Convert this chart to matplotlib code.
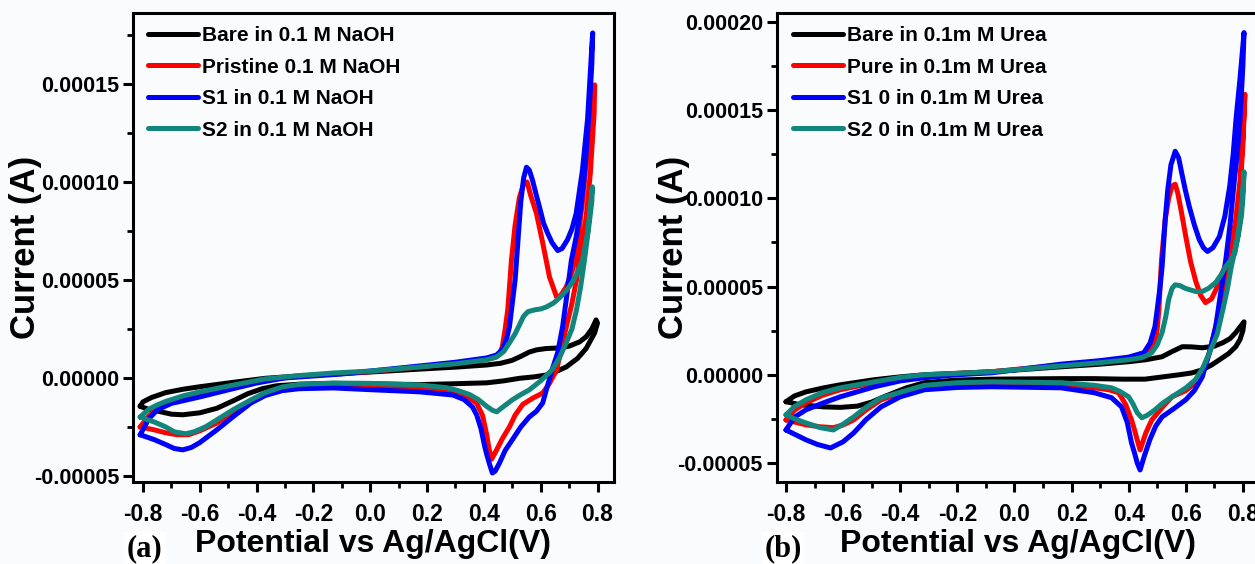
import matplotlib
matplotlib.use('Agg')
import matplotlib.pyplot as plt
import matplotlib.ticker as ticker

plt.rcParams['font.family'] = ['Liberation Sans', 'DejaVu Sans']
plt.rcParams['font.weight'] = 'bold'

# CV loops: potential (V) and current (units of 1e-5 A),
# forward sweep first, then the reverse sweep back to -0.8 V

# ---- (a) 0.1 M NaOH ----
a_bare_E = [-0.81, -0.80, -0.77, -0.72, -0.66, -0.60, -0.48, -0.37, -0.25, -0.13, 0.0, 0.174, 0.30, 0.41,
            0.46, 0.50, 0.53, 0.56, 0.585, 0.62, 0.666, 0.70, 0.737, 0.76, 0.78, 0.795,
            0.80, 0.79, 0.775, 0.76, 0.73, 0.69, 0.65, 0.62, 0.575, 0.525, 0.47, 0.41, 0.29, 0.174, 0.0,
            -0.13, -0.25, -0.33, -0.38, -0.43, -0.48, -0.54, -0.60, -0.66, -0.70, -0.74, -0.78, -0.81]
a_bare_I = [-1.45, -1.22, -1.00, -0.75, -0.58, -0.45, -0.22, -0.02, 0.10, 0.20, 0.30, 0.45, 0.55, 0.66,
            0.75, 0.90, 1.10, 1.32, 1.43, 1.50, 1.53, 1.62, 1.84, 2.10, 2.50, 2.96,
            2.80, 2.30, 1.90, 1.50, 1.00, 0.56, 0.30, 0.15, 0.05, -0.02, -0.15, -0.25, -0.30, -0.34, -0.30,
            -0.28, -0.32, -0.40, -0.55, -0.80, -1.15, -1.55, -1.78, -1.88, -1.85, -1.72, -1.60, -1.45]

a_pris_E = [-0.81, -0.78, -0.75, -0.72, -0.66, -0.60, -0.48, -0.37, -0.25, -0.13, 0.0, 0.174, 0.30, 0.41,
            0.44, 0.455, 0.465, 0.475, 0.484, 0.49, 0.497, 0.51, 0.525, 0.54, 0.552, 0.565, 0.585, 0.607,
            0.631, 0.656, 0.67, 0.69, 0.712, 0.726, 0.747, 0.77, 0.79,
            0.788, 0.775, 0.76, 0.745, 0.726, 0.71, 0.69, 0.67, 0.656, 0.63, 0.607, 0.57, 0.537, 0.51,
            0.49, 0.465, 0.445, 0.427, 0.418, 0.41, 0.395, 0.374, 0.34, 0.29, 0.174, 0.0, -0.13, -0.25,
            -0.31, -0.37, -0.42, -0.48, -0.54, -0.60, -0.64, -0.68, -0.72, -0.76, -0.81]
a_pris_I = [-2.50, -1.95, -1.60, -1.30, -1.00, -0.77, -0.40, -0.10, 0.08, 0.20, 0.32, 0.56, 0.75, 0.95,
            1.05, 1.20, 1.60, 2.50, 3.47, 4.60, 6.00, 7.80, 9.20, 9.90, 10.0, 9.30, 8.40, 6.90,
            5.15, 4.13, 4.20, 4.64, 5.50, 6.40, 9.00, 12.7, 14.95,
            13.5, 10.5, 8.20, 6.80, 5.00, 3.80, 2.60, 1.30, 0.41, -0.30, -0.77, -1.05, -1.35, -1.90,
            -2.50, -3.10, -3.67, -4.15, -3.60, -2.90, -1.90, -1.28, -0.95, -0.77, -0.51, -0.40, -0.42, -0.47,
            -0.60, -0.85, -1.20, -1.75, -2.30, -2.70, -2.90, -2.90, -2.80, -2.65, -2.50]

a_s1_E = [-0.81, -0.78, -0.75, -0.70, -0.60, -0.50, -0.40, -0.30, -0.20, -0.10, 0.0, 0.174, 0.30, 0.41,
          0.445, 0.465, 0.48, 0.49, 0.50, 0.51, 0.52, 0.53, 0.54, 0.55, 0.56, 0.571, 0.585, 0.596, 0.61,
          0.624, 0.64, 0.66, 0.675, 0.694, 0.71, 0.725, 0.747, 0.765, 0.783,
          0.78, 0.77, 0.755, 0.74, 0.725, 0.708, 0.69, 0.677, 0.66, 0.64, 0.62, 0.607, 0.585, 0.56,
          0.53, 0.50, 0.475, 0.455, 0.44, 0.43, 0.42, 0.41, 0.403, 0.39, 0.375, 0.36, 0.33, 0.29, 0.174,
          0.0, -0.13, -0.25, -0.31, -0.37, -0.42, -0.48, -0.54, -0.60, -0.63, -0.66, -0.69, -0.72, -0.76,
          -0.81]
a_s1_I = [-2.90, -2.10, -1.63, -1.30, -0.97, -0.61, -0.26, 0.0, 0.10, 0.20, 0.35, 0.61, 0.80, 1.02,
          1.17, 1.45, 2.00, 2.60, 3.80, 5.00, 7.00, 9.00, 10.2, 10.75, 10.6, 10.1, 9.30, 8.70, 7.90,
          7.40, 6.90, 6.50, 6.60, 7.04, 7.60, 8.40, 10.6, 13.2, 17.6,
          16.0, 13.5, 10.5, 8.50, 7.20, 6.00, 4.00, 2.60, 1.30, 0.41, -0.60, -1.28, -1.70, -1.99,
          -2.50, -3.16, -3.70, -4.34, -4.75, -4.85, -4.40, -3.90, -3.50, -2.60, -1.90, -1.48, -1.10, -0.87,
          -0.71, -0.60, -0.51, -0.55, -0.65, -0.90, -1.28, -1.95, -2.65, -3.30, -3.55, -3.67, -3.60, -3.40,
          -3.15, -2.90]

a_s2_E = [-0.81, -0.78, -0.75, -0.72, -0.66, -0.60, -0.48, -0.37, -0.25, -0.13, 0.0, 0.174, 0.30, 0.41,
          0.445, 0.47, 0.49, 0.51, 0.525, 0.54, 0.555, 0.578, 0.60, 0.62, 0.645, 0.666, 0.69, 0.712,
          0.73, 0.747, 0.765, 0.782,
          0.78, 0.77, 0.754, 0.74, 0.726, 0.71, 0.69, 0.665, 0.64, 0.60, 0.56, 0.53, 0.50, 0.47, 0.445,
          0.43, 0.41, 0.38, 0.35, 0.31, 0.27, 0.174, 0.0, -0.13, -0.25, -0.31, -0.37, -0.42, -0.48,
          -0.54, -0.58, -0.62, -0.65, -0.69, -0.72, -0.76, -0.81]
a_s2_I = [-2.00, -1.60, -1.38, -1.20, -0.92, -0.71, -0.36, -0.05, 0.12, 0.25, 0.35, 0.56, 0.72, 0.92,
          1.07, 1.35, 1.79, 2.25, 2.70, 3.15, 3.38, 3.47, 3.52, 3.62, 3.82, 4.08, 4.45, 4.90,
          5.40, 6.00, 7.40, 9.75,
          9.00, 7.80, 6.00, 4.60, 3.47, 2.50, 1.79, 1.00, 0.41, -0.15, -0.61, -0.85, -1.12, -1.45, -1.73,
          -1.65, -1.45, -1.10, -0.85, -0.65, -0.50, -0.36, -0.28, -0.26, -0.33, -0.46, -0.75, -1.12, -1.60,
          -2.14, -2.50, -2.75, -2.85, -2.75, -2.50, -2.25, -2.00]

# ---- (b) 0.1m M Urea ----
b_bare_E = [-0.80, -0.77, -0.73, -0.67, -0.61, -0.49, -0.40, -0.315, -0.20, -0.08, 0.163, 0.30, 0.40, 0.46,
            0.517, 0.55, 0.588, 0.62, 0.658, 0.70, 0.73, 0.755, 0.775, 0.804,
            0.80, 0.79, 0.775, 0.75, 0.718, 0.69, 0.658, 0.62, 0.577, 0.52, 0.457, 0.38, 0.28, 0.163,
            -0.08, -0.20, -0.315, -0.38, -0.457, -0.50, -0.55, -0.61, -0.67, -0.75, -0.80]
b_bare_I = [-1.53, -1.20, -0.97, -0.75, -0.57, -0.28, -0.12, 0.0, 0.08, 0.17, 0.45, 0.60, 0.74, 0.85,
            1.02, 1.30, 1.59, 1.58, 1.53, 1.62, 1.82, 2.05, 2.39, 3.00,
            2.50, 2.00, 1.59, 1.20, 0.85, 0.55, 0.28, 0.10, 0.0, -0.12, -0.25, -0.25, -0.22, -0.22,
            -0.25, -0.30, -0.45, -0.75, -1.25, -1.55, -1.78, -1.85, -1.82, -1.70, -1.53]

b_pure_E = [-0.80, -0.77, -0.73, -0.67, -0.61, -0.49, -0.40, -0.315, -0.20, -0.08, 0.163, 0.30, 0.40, 0.453,
            0.475, 0.492, 0.50, 0.506, 0.51, 0.515, 0.528, 0.54, 0.552, 0.563, 0.572, 0.585, 0.60, 0.617,
            0.635, 0.652, 0.669, 0.69, 0.705, 0.718, 0.747, 0.765, 0.775, 0.79, 0.80, 0.807,
            0.80, 0.79, 0.78, 0.754, 0.735, 0.718, 0.70, 0.683, 0.66, 0.634, 0.60, 0.552, 0.52, 0.50,
            0.481, 0.46, 0.44, 0.43, 0.42, 0.41, 0.39, 0.365, 0.33, 0.28, 0.163, -0.08, -0.20, -0.315,
            -0.38, -0.467, -0.52, -0.563, -0.60, -0.634, -0.68, -0.73, -0.80]
b_pure_I = [-2.56, -2.00, -1.59, -1.15, -0.85, -0.45, -0.20, -0.05, 0.07, 0.17, 0.55, 0.75, 0.90, 1.15,
            1.40, 1.82, 2.60, 3.70, 5.00, 6.50, 8.80, 10.0, 10.7, 10.8, 10.3, 9.20, 7.84, 6.40,
            5.30, 4.50, 4.09, 4.30, 4.80, 5.40, 6.50, 7.80, 8.80, 11.0, 13.5, 15.9,
            13.0, 10.5, 9.00, 6.50, 5.00, 3.70, 2.40, 1.25, 0.30, -0.45, -0.90, -1.25, -1.80, -2.20,
            -2.56, -3.30, -4.26, -3.70, -3.10, -2.56, -1.70, -1.02, -0.85, -0.74, -0.57, -0.45, -0.50, -0.68,
            -0.95, -1.42, -2.00, -2.56, -2.85, -3.00, -2.95, -2.84, -2.56]

b_s1_E = [-0.80, -0.77, -0.73, -0.67, -0.61, -0.49, -0.40, -0.315, -0.20, -0.08, 0.163, 0.30, 0.40, 0.453,
          0.475, 0.492, 0.50, 0.51, 0.517, 0.528, 0.537, 0.548, 0.563, 0.575, 0.585, 0.598, 0.612, 0.63,
          0.647, 0.662, 0.676, 0.695, 0.718, 0.737, 0.754, 0.766, 0.776, 0.79, 0.804,
          0.80, 0.79, 0.78, 0.77, 0.755, 0.74, 0.72, 0.705, 0.68, 0.658, 0.63, 0.60, 0.56, 0.517,
          0.495, 0.474, 0.455, 0.44, 0.43, 0.42, 0.41, 0.395, 0.375, 0.34, 0.28, 0.163, -0.08, -0.20,
          -0.315, -0.40, -0.467, -0.52, -0.563, -0.60, -0.644, -0.69, -0.73, -0.80]
b_s1_I = [-3.13, -2.40, -1.99, -1.60, -1.25, -0.68, -0.35, -0.17, 0.0, 0.11, 0.60, 0.80, 1.00, 1.25,
          1.80, 2.73, 3.70, 5.00, 6.10, 8.80, 10.5, 11.9, 12.67, 12.3, 11.5, 10.5, 9.55, 8.50,
          7.67, 7.20, 6.99, 7.20, 7.84, 9.00, 10.7, 12.5, 14.5, 16.8, 19.4,
          17.5, 14.5, 12.5, 11.0, 8.50, 6.50, 4.40, 2.73, 1.10, -0.11, -0.90, -1.42, -1.90, -2.39,
          -2.90, -3.69, -4.60, -5.40, -5.00, -4.40, -3.86, -2.70, -1.82, -1.30, -1.02, -0.74, -0.68, -0.72,
          -0.85, -1.25, -1.82, -2.55, -3.30, -3.80, -4.15, -3.95, -3.69, -3.13]

b_s2_E = [-0.80, -0.77, -0.73, -0.67, -0.61, -0.49, -0.40, -0.315, -0.20, -0.08, 0.163, 0.30, 0.40, 0.446,
          0.465, 0.481, 0.50, 0.517, 0.53, 0.54, 0.552, 0.563, 0.58, 0.598, 0.612, 0.635, 0.658, 0.68,
          0.705, 0.725, 0.74, 0.758, 0.772, 0.782, 0.79, 0.798, 0.804,
          0.80, 0.795, 0.785, 0.775, 0.758, 0.745, 0.73, 0.71, 0.683, 0.66, 0.634, 0.60, 0.552, 0.52,
          0.492, 0.465, 0.446, 0.43, 0.415, 0.40, 0.37, 0.34, 0.28, 0.163, -0.08, -0.20, -0.315, -0.38,
          -0.467, -0.52, -0.563, -0.60, -0.634, -0.68, -0.73, -0.77, -0.80]
b_s2_I = [-2.27, -1.80, -1.42, -1.00, -0.74, -0.40, -0.15, 0.0, 0.08, 0.17, 0.50, 0.68, 0.85, 0.97,
          1.10, 1.25, 1.70, 2.39, 3.30, 4.26, 4.90, 5.10, 5.05, 4.90, 4.83, 4.72, 4.72, 4.90,
          5.23, 5.70, 6.14, 6.50, 6.90, 7.80, 8.80, 10.0, 11.5,
          10.0, 9.00, 8.00, 7.30, 6.00, 4.80, 3.70, 2.30, 1.25, 0.40, -0.28, -0.75, -1.25, -1.60,
          -1.99, -2.30, -2.44, -2.15, -1.65, -1.25, -0.95, -0.74, -0.60, -0.45, -0.40, -0.45, -0.60, -0.90,
          -1.31, -1.85, -2.39, -2.80, -3.13, -3.00, -2.73, -2.50, -2.27]

colors = ['black', '#ff0000', '#0000ff', '#12857c']
labels_a = ['Bare in 0.1 M NaOH', 'Pristine 0.1 M NaOH', 'S1 in 0.1 M NaOH', 'S2 in 0.1 M NaOH']
labels_b = ['Bare in 0.1m M Urea', 'Pure in 0.1m M Urea', 'S1 0 in 0.1m M Urea', 'S2 0 in 0.1m M Urea']

x_ticks = [-0.8, -0.6, -0.4, -0.2, 0.0, 0.2, 0.4, 0.6, 0.8]
y_ticks = [-0.00005, 0.0, 0.00005, 0.00010, 0.00015, 0.00020]


def draw_panel(ax, curves, labels, xlim, ylim, leg_x):
    for (E, I), c, lab in zip(curves, colors, labels):
        ax.plot(E, [v * 1e-5 for v in I], color=c, linewidth=3.6, label=lab,
                solid_joinstyle='round', solid_capstyle='round')
    ax.set_xlim(*xlim)
    ax.set_ylim(*ylim)
    ax.set_facecolor('#fafbfc')
    ax.xaxis.set_major_locator(ticker.FixedLocator(x_ticks))
    ax.xaxis.set_minor_locator(ticker.MultipleLocator(0.1))
    ax.yaxis.set_major_locator(ticker.FixedLocator(y_ticks))
    ax.yaxis.set_minor_locator(ticker.MultipleLocator(0.000025))
    ax.xaxis.set_major_formatter(ticker.FormatStrFormatter('%.1f'))
    ax.yaxis.set_major_formatter(ticker.FormatStrFormatter('%.5f'))
    for s in ax.spines.values():
        s.set_linewidth(2.2)
    ax.tick_params(which='major', direction='out', length=7, width=2.2, labelsize=15.5)
    ax.tick_params(which='minor', direction='out', length=4, width=2)
    ax.tick_params(axis='x', which='major', pad=8, labelsize=16.5)
    ax.tick_params(axis='y', which='major', pad=3)
    ax.set_xlabel('Potential vs Ag/AgCl(V)', fontsize=23, fontweight='bold')
    ax.set_ylabel('Current (A)', fontsize=25, fontweight='bold')
    ax.xaxis.set_label_coords(0.5, -0.1)
    ax.legend(loc='upper left', bbox_to_anchor=(leg_x, 0.972), frameon=False, fontsize=15,
              handlelength=2.4, handletextpad=0.2, labelspacing=0.6, borderpad=0, borderaxespad=0)


fig = plt.figure(figsize=(12.55, 5.64), dpi=100, facecolor='#fafbfc')
ax1 = fig.add_axes([0.106, 0.1454, 0.383, 0.8316])
ax2 = fig.add_axes([0.619, 0.1454, 0.385, 0.8316])

draw_panel(ax1, [(a_bare_E, a_bare_I), (a_pris_E, a_pris_I), (a_s1_E, a_s1_I), (a_s2_E, a_s2_I)],
           labels_a, (-0.835, 0.857), (-0.0000531, 0.0001862), 0.031)
draw_panel(ax2, [(b_bare_E, b_bare_I), (b_pure_E, b_pure_I), (b_s1_E, b_s1_I), (b_s2_E, b_s2_I)],
           labels_b, (-0.832, 0.86), (-0.0000608, 0.0002051), 0.033)
ax1.yaxis.set_label_coords(-0.19, 0.5)
ax2.yaxis.set_label_coords(-0.18, 0.5)

# panel letters
for x, letter in [(145, '(a)'), (783, '(b)')]:
    fig.text(x / 1255, 1 - 549 / 564, letter, ha='center', va='center', fontsize=22,
             fontweight='bold', family=['Liberation Serif', 'DejaVu Serif'],
             bbox=dict(facecolor='white', edgecolor='none', pad=2))

plt.savefig('out.png', dpi=100, facecolor=fig.get_facecolor())
